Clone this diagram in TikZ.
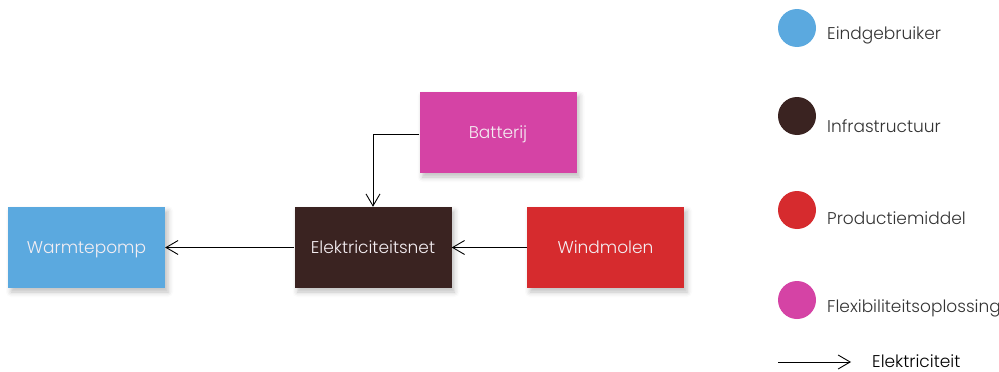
\documentclass[tikz,border=0pt]{standalone}
\usepackage{fontspec}
\setmainfont{Poppins}[UprightFont=* Light]
\usetikzlibrary{arrows.meta,shadows.blur}

\definecolor{cblue}{HTML}{5BA9DF}
\definecolor{cbrown}{HTML}{3A2321}
\definecolor{cred}{HTML}{D62B2E}
\definecolor{cmagenta}{HTML}{D543A5}
\definecolor{boxtext}{HTML}{F4EEF2}
\definecolor{legtext}{HTML}{333333}

% label set on a baseline a fixed distance below the block's centre
\newcommand{\blocklabel}[1]{\raisebox{-6pt}[0pt][0pt]{#1}}

\tikzset{
  block/.style={rectangle, minimum width=157pt, minimum height=81pt,
    inner sep=0pt, text=boxtext, font=\fontsize{17}{20}\selectfont,
    blur shadow={shadow xshift=3pt, shadow yshift=-4pt, shadow opacity=25, shadow blur radius=5pt}},
  flow/.style={draw=black, line width=0.9pt,
    -{Straight Barb[length=12pt, width=14pt, line width=0.9pt]}},
  dot/.style={circle, minimum size=38pt, inner sep=0pt},
  legend/.style={anchor=west, inner sep=0pt, text=legtext, font=\fontsize{17}{20}\selectfont},
}

\begin{document}
\begin{tikzpicture}[x=1pt, y=-1pt]
  \useasboundingbox (0,0) rectangle (999,372);

  % network blocks
  \node[block, fill=cblue]    (pomp)  at (86.5,247.5)  {\blocklabel{Warmtepomp}};
  \node[block, fill=cbrown]   (net)   at (373,247.5)   {\blocklabel{Elektriciteitsnet}};
  \node[block, fill=cred]     (wind)  at (605.5,247.5) {\blocklabel{Windmolen}};
  \node[block, fill=cmagenta] (bat)   at (498,132.5)   {\blocklabel{Batterij}};

  % energy flows
  \draw[flow] (net.west) -- (pomp.east);
  \draw[flow] (wind.west) -- (net.east);
  \draw[flow] ([yshift=-1.5pt]bat.west) -| (net.north);

  % legend
  \node[dot, fill=cblue]    (d1) at (797,28)  {};
  \node[dot, fill=cbrown]   (d2) at (797,116) {};
  \node[dot, fill=cred]     (d3) at (797,210) {};
  \node[dot, fill=cmagenta] (d4) at (797,300) {};
  \node[legend] (l1) at (827,35)  {Eindgebruiker};
  \node[legend] (l2) at (827,126) {Infrastructuur};
  \node[legend] (l3) at (827,218) {Productiemiddel};
  \node[legend] (l4) at (827,308) {Flexibiliteitsoplossing};

  \coordinate (a0) at (778,362);
  \coordinate (a1) at (851,362);
  \draw[flow] (a0) -- (a1);
  \node[legend, text=black] (l5) at (872,361) {Elektriciteit};
\end{tikzpicture}
\end{document}
